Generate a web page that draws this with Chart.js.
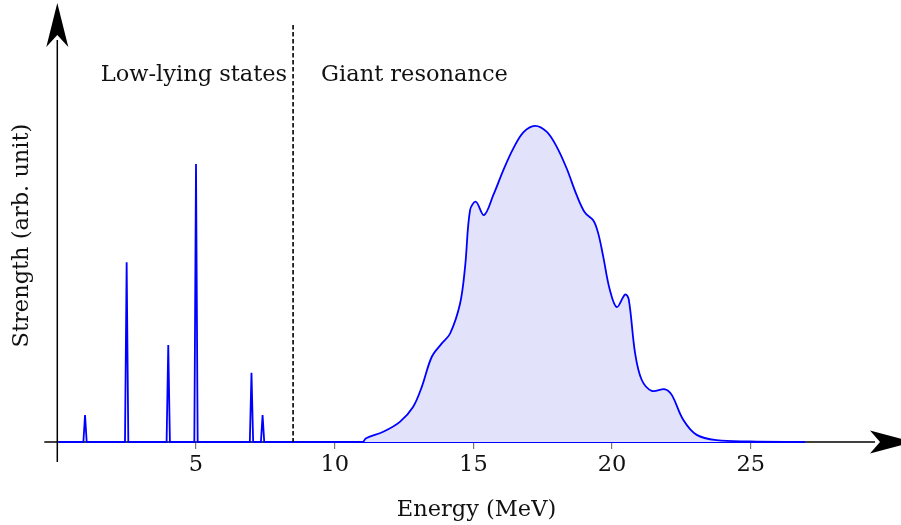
<!DOCTYPE html>
<html><head><meta charset="utf-8">
<script src="https://cdn.jsdelivr.net/npm/chart.js@4/dist/chart.umd.min.js"></script>
<style>html,body{margin:0;padding:0;background:#fff;overflow:hidden}#wrap{width:901px;height:525px}</style>
</head><body><div id="wrap"><canvas id="c" width="901" height="525"></canvas></div>
<script>
// ---- data ----
const spikeEnergy   = [1.0, 2.5, 4.0, 5.0, 7.0, 7.4];
const spikeStrength = [0.87, 5.8, 3.13, 8.97, 2.23, 0.87];
const grEnergy   = [11.03, 11.13, 11.75, 12.35, 12.83, 13.14, 13.5, 13.86, 14.16, 14.52, 14.7, 14.88, 15.09, 15.38, 15.72, 16.08, 16.44, 16.8, 17.22, 17.64, 18.0, 18.36, 18.72, 19.02, 19.32, 19.5, 19.68, 19.92, 20.17, 20.47, 20.6, 20.83, 21.07, 21.43, 21.91, 22.15, 22.57, 23.05, 23.77, 24.97, 26.95];
const grStrength = [0.0, 0.12, 0.33, 0.65, 1.14, 1.78, 2.75, 3.18, 3.5, 4.47, 5.65, 7.48, 7.75, 7.32, 7.97, 8.77, 9.47, 9.99, 10.2, 10.01, 9.53, 8.83, 7.97, 7.4, 7.15, 6.73, 5.98, 4.9, 4.35, 4.76, 4.6, 2.86, 2.0, 1.65, 1.7, 1.52, 0.71, 0.23, 0.06, 0.02, 0.0];
const xTickValues = [5, 10, 15, 20, 25];
const xTitle = 'Energy (MeV)';
const yTitle = 'Strength (arb. unit)';
const lowLabel = 'Low-lying states';
const giantLabel = 'Giant resonance';
const boundaryEnergy = 8.5;
const boundaryTop = 13.45;
const spectrumStart = 0.05;
const spectrumEnd = 26.95;
const spikeHalfWidth = 0.06;

// ---- build datasets ----
const spikePoints = [{x: spectrumStart, y: 0}];
spikeEnergy.forEach((e, i) => {
  spikePoints.push({x: e - spikeHalfWidth, y: 0});
  spikePoints.push({x: e, y: spikeStrength[i]});
  spikePoints.push({x: e + spikeHalfWidth, y: 0});
});
spikePoints.push({x: spectrumEnd, y: 0});
const grPoints = grEnergy.map((e, i) => ({x: e, y: grStrength[i]}));

const FONT = 'DejaVu Serif';
const TXT = '#111';

const axesPlugin = {
  id: 'axesPlugin',
  beforeDatasetsDraw(chart) {
    const {ctx} = chart;
    const xs = chart.scales.x, ys = chart.scales.y;
    const x0 = xs.getPixelForValue(0), y0 = ys.getPixelForValue(0);
    ctx.save();
    ctx.strokeStyle = '#000';
    ctx.fillStyle = '#000';
    ctx.lineWidth = 1.5;
    ctx.beginPath(); ctx.moveTo(x0 - 13, y0); ctx.lineTo(875, y0); ctx.stroke();
    ctx.beginPath(); ctx.moveTo(x0, y0 + 20); ctx.lineTo(x0, 40); ctx.stroke();
    ctx.beginPath();
    ctx.moveTo(x0, 3);
    ctx.lineTo(x0 - 11, 47);
    ctx.lineTo(x0, 35);
    ctx.lineTo(x0 + 11, 47);
    ctx.closePath(); ctx.fill();
    ctx.beginPath();
    ctx.moveTo(913, y0);
    ctx.lineTo(870, y0 - 11.5);
    ctx.lineTo(880, y0);
    ctx.lineTo(870, y0 + 11.5);
    ctx.closePath(); ctx.fill();
    ctx.restore();
  },
  afterDatasetsDraw(chart) {
    const {ctx} = chart;
    const xs = chart.scales.x, ys = chart.scales.y;
    const bx = xs.getPixelForValue(boundaryEnergy);
    ctx.save();
    ctx.strokeStyle = '#000';
    ctx.lineWidth = 1.6;
    ctx.setLineDash([4.5, 2.5]);
    ctx.beginPath();
    ctx.moveTo(bx, ys.getPixelForValue(boundaryTop));
    ctx.lineTo(bx, ys.getPixelForValue(0));
    ctx.stroke();
    ctx.setLineDash([]);
    ctx.fillStyle = TXT;
    ctx.font = '22.5px "' + FONT + '"';
    ctx.textBaseline = 'alphabetic';
    ctx.textAlign = 'right';
    ctx.fillText(lowLabel, bx - 6, 81);
    ctx.textAlign = 'left';
    ctx.fillText(giantLabel, bx + 28, 81);
    ctx.textAlign = 'center';
    ctx.fillText(xTitle, 476.5, 516);
    ctx.translate(22, 235.5);
    ctx.rotate(-Math.PI / 2);
    ctx.textBaseline = 'middle';
    ctx.fillText(yTitle, 0, 0);
    ctx.restore();
  }
};

new Chart(document.getElementById('c'), {
  type: 'line',
  data: {
    datasets: [
      {
        data: grPoints,
        borderColor: '#0000ff',
        borderWidth: 1.8,
        backgroundColor: '#e2e2fb',
        fill: 'origin',
        pointRadius: 0,
        clip: false,
        tension: 0.35,
        capBezierPoints: true
      },
      {
        data: spikePoints,
        borderColor: '#0000ff',
        borderWidth: 1.8,
        fill: false,
        pointRadius: 0,
        clip: false,
        tension: 0
      }
    ]
  },
  options: {
    responsive: false,
    animation: false,
    events: [],
    layout: {padding: {left: 0, right: 11.5, top: 8, bottom: 0}},
    plugins: {legend: {display: false}, tooltip: {enabled: false}},
    scales: {
      x: {
        type: 'linear',
        min: 0, max: 30,
        afterBuildTicks(scale) { scale.ticks = xTickValues.map(v => ({value: v})); },
        afterFit(scale) { scale.height = 83; },
        border: {display: false},
        grid: {drawOnChartArea: false, drawTicks: true, tickLength: 7, color: '#777', lineWidth: 1.2},
        ticks: {font: {family: FONT, size: 22.5}, color: TXT, padding: 3, maxRotation: 0},
        title: {display: false}
      },
      y: {
        min: 0, max: 14,
        afterFit(scale) { scale.width = 57.3; },
        border: {display: false},
        grid: {display: false},
        ticks: {display: false}
      }
    }
  },
  plugins: [axesPlugin]
});
</script>
</body></html>
